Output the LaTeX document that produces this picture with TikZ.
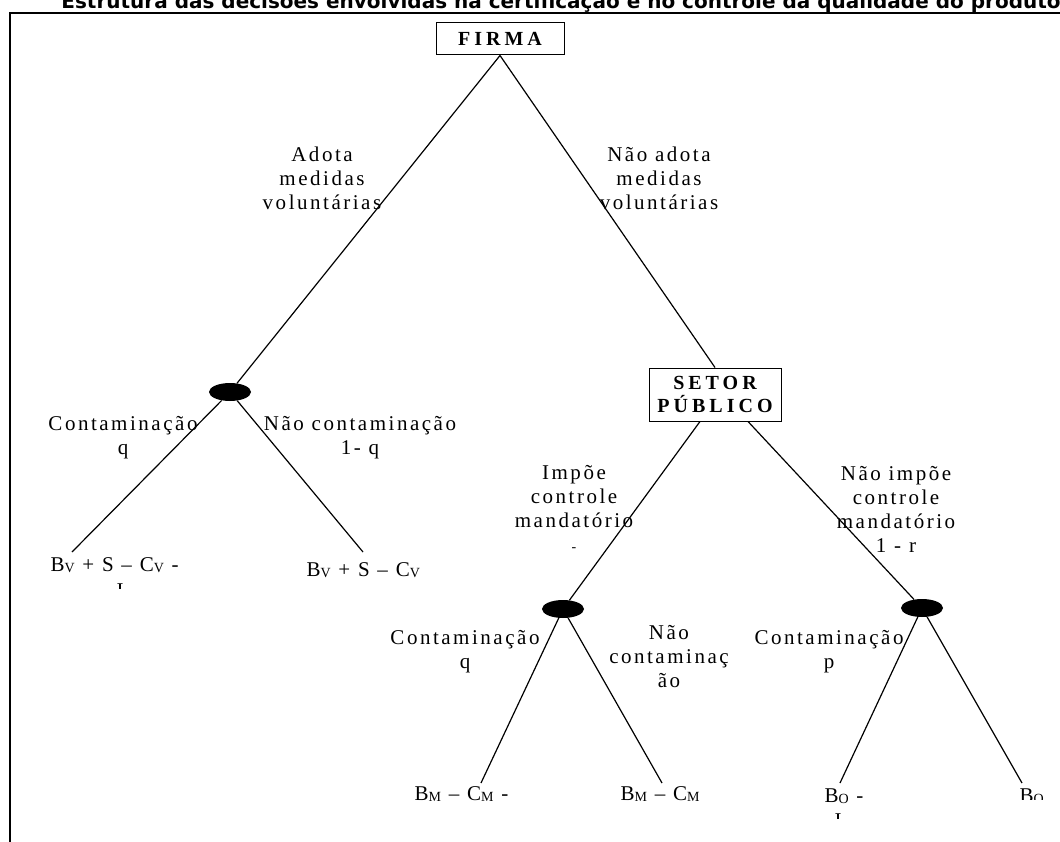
\documentclass[tikz,border=0pt]{standalone}
\usepackage{fontspec}
\usetikzlibrary{shapes.geometric}
\setmainfont{Liberation Serif}
\newfontfamily\lblfont[LetterSpace=12]{Liberation Serif}
\newfontfamily\boxfont[LetterSpace=20]{Liberation Serif}
\newfontfamily\titlefont{DejaVu Sans}
\newcommand{\idx}[1]{\raisebox{-1.5pt}{\fontsize{14}{14}\selectfont #1}}
\tikzset{
    choice/.style={draw, line width=1pt, align=center, inner sep=2pt,
        font=\boxfont\bfseries\fontsize{20}{23}\selectfont},
    chance/.style={ellipse, fill=black, minimum width=42pt, minimum height=18pt, inner sep=0pt},
    lbl/.style={align=center, font=\lblfont\fontsize{21}{24}\selectfont},
    payoff/.style={anchor=base west, font=\lblfont\fontsize{21}{24}\selectfont},
    branch/.style={line width=1.2pt}
}
\begin{document}
\begin{tikzpicture}[x=1pt,y=-1pt]
        \useasboundingbox (0,0) rectangle (1060,842);
        \clip (0,0) rectangle (1060,842);
        % title and frame
        \node[anchor=base, font=\titlefont\bfseries\fontsize{20}{20}\selectfont] (title) at (561,9)
            {Estrutura das decisões envolvidas na certificação e no controle da qualidade do produto};
        \draw[line width=2.5pt] (10,842) -- (10,13) -- (1060,13);
        % decision nodes
        \node[choice, minimum width=128pt, minimum height=32pt] (firma) at (500,39) {FIRMA};
        \node[choice, minimum width=132pt, minimum height=53pt] (setor) at (715,394.5) {SETOR\\PÚBLICO};
        % chance nodes
        \node[chance] (n1) at (230,392) {};
        \node[chance] (n2) at (563,609) {};
        \node[chance] (n3) at (922,608) {};
        % end points
        \coordinate (l1) at (72,552);
        \coordinate (l2) at (363,552);
        \coordinate (l3) at (481,783);
        \coordinate (l4) at (662,783);
        \coordinate (l5) at (840,783);
        \coordinate (l6) at (1022,783);
        % branches
        \draw[branch] (firma.south) -- (n1);
        \draw[branch] (firma.south) -- (setor.north);
        \draw[branch] (n1) -- (l1);
        \draw[branch] (n1) -- (l2);
        \draw[branch] ([xshift=-15pt]setor.south) -- (n2);
        \draw[branch] ([xshift=33pt]setor.south) -- (n3);
        \draw[branch] (n2) -- (l3);
        \draw[branch] (n2) -- (l4);
        \draw[branch] (n3) -- (l5);
        \draw[branch] (n3) -- (l6);
        % branch labels
        \node[lbl] (adota) at (322,178) {Adota\\medidas\\voluntárias};
        \node[lbl] (naoadota) at (659,178) {Não adota\\medidas\\voluntárias};
        \node[lbl] (contq1) at (123,438) {Contaminação\\q};
        \node[lbl] (naocont1) at (360,438) {Não contaminação\\1- q};
        \node[lbl] (impoe) at (574,508) {Impõe\\controle\\mandatório\\{\fontsize{14}{24}\selectfont -}};
        \node[lbl] (naoimpoe) at (896,509) {Não impõe\\controle\\mandatório\\1 - r};
        \node[lbl] (contq2) at (465,652) {Contaminação\\q};
        \node[lbl] (naocont2) at (669,657) {Não\\contaminaç\\ão};
        \node[lbl] (contp) at (829,652) {Contaminação\\p};
        % payoffs
        \node[payoff] (v1) at (47,571) {B\idx{V} + S – C\idx{V} -};
        \node[payoff] (v2) at (303,576) {B\idx{V} + S – C\idx{V}};
        \node[payoff] (m1) at (411,800) {B\idx{M} – C\idx{M} -};
        \node[payoff] (m2) at (617,800) {B\idx{M} – C\idx{M}};
        \node[payoff] (o1) at (821,802) {B\idx{O} -};
        \begin{scope}
            \clip (1000,770) rectangle (1060,799);
            \node[payoff] (o2) at (1016,802) {B\idx{O}};
        \end{scope}
        % cut-off second lines
        \begin{scope}
            \clip (110,579) rectangle (130,588);
            \node[payoff] (v1b) at (113,597) {I};
        \end{scope}
        \begin{scope}
            \clip (825,809) rectangle (850,818);
            \node[payoff] (o1b) at (831,827) {I};
        \end{scope}
\end{tikzpicture}
\end{document}
